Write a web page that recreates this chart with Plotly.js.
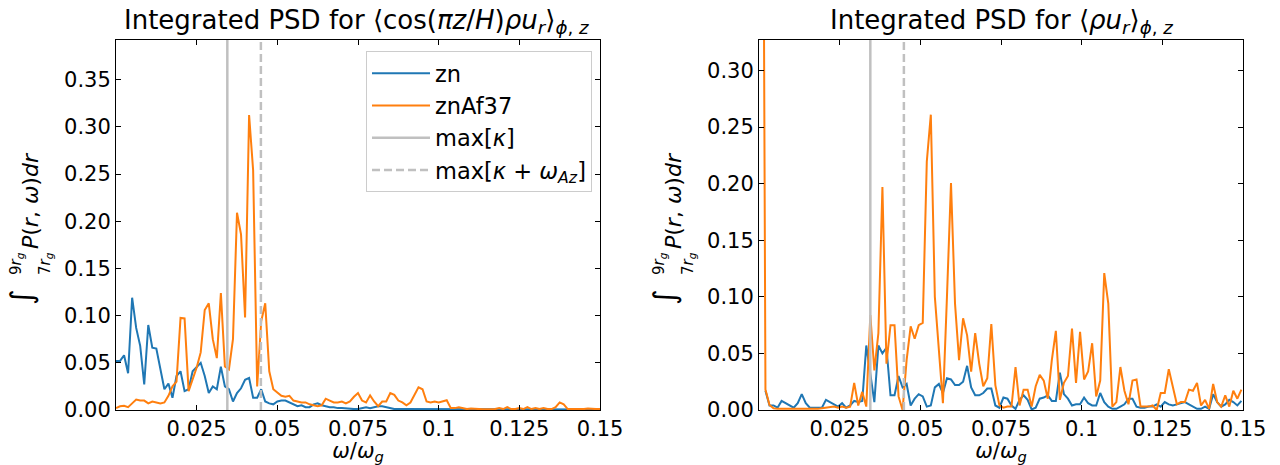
<!DOCTYPE html>
<html><head><meta charset="utf-8">
<script src="https://cdn.plot.ly/plotly-3.0.1.min.js"></script>
<style>html,body{margin:0;padding:0;background:#fff}#chart{width:1280px;height:465px}</style>
</head><body><div id="chart"></div>
<script>
// ---- data ----
const FREQ_STEP = 0.00125;
const LEFT_FREQ_START = 0;
const RIGHT_FREQ_START = 0.00075;

// left panel: <cos(pi z/H) rho u_r>
const zn_cos = [0.052,0.052,0.058,0.039,0.119,0.087,0.068,0.027,0.090,0.066,
  0.065,0.045,0.022,0.028,0.013,0.036,0.041,0.020,0.022,0.041,
  0.045,0.050,0.036,0.018,0.025,0.022,0.046,0.025,0.022,0.009,
  0.018,0.023,0.032,0.034,0.013,0.013,0.022,0.009,0.007,0.006,
  0.009,0.010,0.010,0.008,0.006,0.004,0.005,0.003,0.003,0.006,
  0.007,0.005,0.004,0.003,0.003,0.002,0.002,0.0015,0.0015,0.001,
  0.001,0.002,0.003,0.002,0.003,0.004,0.004,0.003,0.002,0.001,
  0.001,0.001,0.0008,0.001,0.0012,0.001,0.0008,0.0006,0.0008,0.001,
  0.0012,0.001,0.0008,0.0006,0.0005,0.0005,0.0006,0.0005,0.0004,0.0005,
  0.0006,0.0005,0.0004,0.0005,0.0005,0.0006,0.0005,0.0004,0.0005,0.0005,
  0.0004,0.0005,0.0006,0.0005,0.0004,0.0005,0.0005,0.0004,0.0005,0.0006,
  0.0005,0.0004,0.0005,0.0005,0.0004,0.0005,0.0005,0.0004,0.0005,0.0005,0.0005];
const znAf37_cos = [0.002,0.004,0.0045,0.003,0.007,0.011,0.010,0.010,0.007,0.009,
  0.008,0.007,0.008,0.015,0.025,0.030,0.0975,0.097,0.020,0.032,
  0.045,0.061,0.106,0.113,0.075,0.055,0.124,0.046,0.043,0.075,
  0.209,0.186,0.098,0.3125,0.254,0.025,0.094,0.113,0.041,0.022,
  0.018,0.015,0.014,0.015,0.010,0.009,0.008,0.008,0.006,0.005,
  0.004,0.005,0.012,0.010,0.008,0.008,0.009,0.007,0.009,0.014,
  0.018,0.010,0.008,0.0155,0.009,0.004,0.009,0.009,0.018,0.016,
  0.010,0.008,0.005,0.008,0.016,0.024,0.022,0.009,0.008,0.009,
  0.008,0.009,0.0103,0.002,0.002,0.003,0.002,0.001,0.0015,0.001,
  0.001,0.0008,0.001,0.0015,0.001,0.002,0.001,0.003,0.001,0.001,
  0.002,0.001,0.003,0.001,0.002,0.001,0.002,0.001,0.001,0.003,
  0.008,0.006,0.001,0.001,0.0008,0.001,0.001,0.0015,0.001,0.001,0.001];

// right panel: <rho u_r>
const zn_rho = [null,0.017,0.004,0.004,0.002,0.008,0.006,0.004,0.002,0.006,
  0.014,0.006,0.002,0.002,0.002,0.002,0.009,0.007,0.005,0.003,
  0.006,0.002,0.004,0.008,0.007,0.008,0.057,0.033,0.007,0.057,
  0.050,0.055,0.013,0.013,0.030,0.020,0.023,0.004,0.010,0.014,
  0.012,0.003,0.004,0.020,0.023,0.015,0.028,0.027,0.022,0.022,
  0.025,0.039,0.020,0.013,0.013,0.015,0.019,0.019,0.004,0.002,
  0.011,0.010,0.004,0.001,0.009,0.013,0.009,0.0005,0.002,0.010,
  0.011,0.013,0.008,0.008,0.033,0.014,0.010,0.004,0.005,0.005,
  0.011,0.006,0.004,0.004,0.015,0.007,0.003,0.001,0.001,0.003,
  0.005,0.010,0.010,0.003,0.002,0.002,0.003,0.003,0.005,0.003,
  0.007,0.005,0.004,0.005,0.006,0.007,0.005,0.003,0.001,0.001,
  0.003,0.001,0.014,0.007,0.003,0.005,0.009,0.007,0.004,0.008];
const znAf37_rho = [0.9,0.018,0.0045,0.0015,0.001,0.001,0.0008,0.001,0.001,0.0008,
  0.001,0.001,0.001,0.0008,0.001,0.0015,0.002,0.002,0.003,0.002,
  0.003,0.002,0.003,0.024,0.004,0.016,0.003,0.084,0.035,0.068,
  0.197,0.041,0.075,0.075,0.012,0.000,0.044,0.074,0.063,0.075,
  0.077,0.2195,0.261,0.100,0.056,0.006,0.100,0.2005,0.094,0.044,
  0.081,0.066,0.034,0.068,0.041,0.021,0.028,0.076,0.022,0.004,
  0.002,0.003,0.003,0.038,0.004,0.018,0.018,0.003,0.021,0.031,
  0.026,0.010,0.044,0.070,0.009,0.024,0.030,0.072,0.024,0.069,
  0.027,0.034,0.059,0.012,0.026,0.121,0.094,0.003,0.007,0.038,
  0.017,0.005,0.026,0.027,0.003,0.003,0.003,0.004,0.000,0.015,
  0.015,0.036,0.021,0.005,0.007,0.007,0.018,0.017,0.024,0.004,
  0.009,0.001,0.023,0.007,0.003,0.013,0.003,0.017,0.010,0.018];

const kappaMax = [0.0345, 0.0345];
const kappaAzMax = [0.0449, 0.0449];
const xRange = [0, 0.15];
const yRangeLeft = [0, 0.392];
const yRangeRight = [0, 0.327];
const xTickVals = [0.025, 0.05, 0.075, 0.1, 0.125, 0.15];
const xTickText = ['0.025', '0.05', '0.075', '0.1', '0.125', '0.15'];
const yTicksLeft = [0, 0.05, 0.10, 0.15, 0.20, 0.25, 0.30, 0.35];
const yTicksRight = [0, 0.05, 0.10, 0.15, 0.20, 0.25, 0.30];

const seriesNames = ['zn', 'znAf37', 'max[<i>κ</i>]', 'max[<i>κ</i> + <i>ω</i><sub><i>Az</i></sub>]'];
const titles = ['Integrated PSD for ⟨cos(<i>πz</i>/<i>H</i>)<i>ρu</i><sub><i>r</i></sub>⟩<sub><i>ϕ</i>, <i>z</i></sub>',
                'Integrated PSD for ⟨<i>ρu</i><sub><i>r</i></sub>⟩<sub><i>ϕ</i>, <i>z</i></sub>'];
// y-axis label pieces: integral sign, upper limit, lower limit, integrand
const yTitleParts = ['∫', '9<i>r</i><sub><i>g</i></sub>', '7<i>r</i><sub><i>g</i></sub>',
                     '<i>P</i>(<i>r</i>, <i>ω</i>)<i>dr</i>'];
const xTitle = '<i>ω</i>/<i>ω</i><sub><i>g</i></sub>';

// ---- styles ----
const BLUE = '#1f77b4', ORANGE = '#ff7f0e', GREY = '#c0c0c0';
const FONT = 'DejaVu Sans, sans-serif';

function panelTraces(xa, ya, blue, orange, f0, yr, show) {
  return [
    {type: 'scatter', mode: 'lines', x0: f0, dx: FREQ_STEP, y: blue, xaxis: xa, yaxis: ya,
     name: seriesNames[0], showlegend: show, line: {color: BLUE, width: 2}},
    {type: 'scatter', mode: 'lines', x0: f0, dx: FREQ_STEP, y: orange, xaxis: xa, yaxis: ya,
     name: seriesNames[1], showlegend: show, line: {color: ORANGE, width: 2}},
    {type: 'scatter', mode: 'lines', x: kappaMax, y: yr, xaxis: xa, yaxis: ya,
     name: seriesNames[2], showlegend: show, line: {color: GREY, width: 2.5}},
    {type: 'scatter', mode: 'lines', x: kappaAzMax, y: yr, xaxis: xa, yaxis: ya,
     name: seriesNames[3], showlegend: show, line: {color: GREY, width: 2.5, dash: '8px,4px'}}
  ];
}

const data = [].concat(
  panelTraces('x', 'y', zn_cos, znAf37_cos, LEFT_FREQ_START, yRangeLeft, true),
  panelTraces('x2', 'y2', zn_rho, znAf37_rho, RIGHT_FREQ_START, yRangeRight, false)
);

function xAxis(domain, anchor) {
  return {domain: domain, anchor: anchor, range: xRange, tickvals: xTickVals, ticktext: xTickText,
    ticks: 'inside', ticklen: 5, tickwidth: 1, tickcolor: '#000', showline: true, linecolor: '#000',
    linewidth: 1, mirror: 'ticks', showgrid: false, zeroline: false,
    tickfont: {family: FONT, size: 21, color: '#000'},
    title: {text: xTitle, font: {family: FONT, size: 21, color: '#000'}, standoff: 6}};
}
function yAxis(domain, anchor, range, ticks) {
  return {domain: domain, anchor: anchor, range: range, tickvals: ticks, tickformat: '.2f',
    ticks: 'inside', ticklen: 5, tickwidth: 1, tickcolor: '#000', showline: true, linecolor: '#000',
    linewidth: 1, mirror: 'ticks', showgrid: false, zeroline: false,
    tickfont: {family: FONT, size: 21, color: '#000'}};
}

// rotated y-label built from pieces; dx = panel offset in px
function yTitleAnns(dx) {
  const spec = [
    {t: yTitleParts[0], x: 21, y: 297, s: 30},
    {t: yTitleParts[1], x: 16, y: 264, s: 15},
    {t: yTitleParts[2], x: 45, y: 264, s: 15},
    {t: yTitleParts[3], x: 30, y: 201, s: 22}
  ];
  return spec.map(p => ({text: p.t, textangle: -90, x: (p.x + dx)/1280, y: (465 - p.y)/465,
    xref: 'paper', yref: 'paper', xanchor: 'center', yanchor: 'middle', showarrow: false,
    font: {family: FONT, size: p.s, color: '#000'}}));
}

const yDom = [55/465, 425/465];
const layout = {
  width: 1280, height: 465,
  margin: {l: 0, r: 0, t: 0, b: 0},
  paper_bgcolor: '#fff', plot_bgcolor: '#fff',
  font: {family: FONT, color: '#000'},
  xaxis: xAxis([116/1280, 600/1280], 'y'),
  yaxis: yAxis(yDom, 'x', yRangeLeft, yTicksLeft),
  xaxis2: xAxis([759/1280, 1243/1280], 'y2'),
  yaxis2: yAxis(yDom, 'x2', yRangeRight, yTicksRight),
  showlegend: true,
  legend: {x: 366/1280, y: (465-51)/465, xanchor: 'left', yanchor: 'top',
    bgcolor: 'rgba(255,255,255,0.8)', bordercolor: '#cccccc', borderwidth: 1,
    font: {family: FONT, size: 22.5, color: '#000'}, itemwidth: 58},
  annotations: [
    {text: titles[0], x: 356/1280, y: 425/465, xref: 'paper', yref: 'paper', xanchor: 'center', yanchor: 'bottom',
     showarrow: false, font: {family: FONT, size: 26, color: '#000'}},
    {text: titles[1], x: 1001/1280, y: 425/465, xref: 'paper', yref: 'paper', xanchor: 'center', yanchor: 'bottom',
     showarrow: false, font: {family: FONT, size: 26, color: '#000'}}
  ].concat(yTitleAnns(0), yTitleAnns(643))
};

Plotly.newPlot('chart', data, layout, {displayModeBar: false, staticPlot: true});
</script></body></html>
